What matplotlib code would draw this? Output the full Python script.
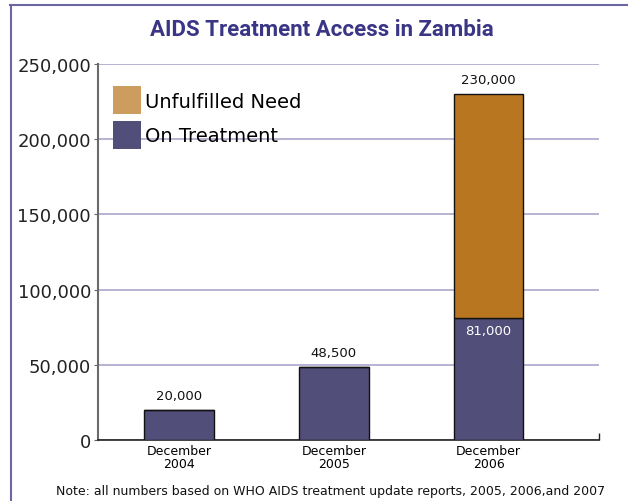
import matplotlib
matplotlib.use('Agg')
import matplotlib.pyplot as plt
from matplotlib.lines import Line2D
from matplotlib.patches import Patch

# Daten
years = ['December\n2004', 'December\n2005', 'December\n2006']
on_treatment = [20000, 48500, 81000]
total_need = [20000, 48500, 230000]
unfulfilled = [t - o for t, o in zip(total_need, on_treatment)]
y_ticks = [0, 50000, 100000, 150000, 200000, 250000]

purple = '#524e7a'
orange = '#b87620'
legend_orange = '#cc9d5f'
grid_color = '#a9a5cc'

plt.rcParams['font.family'] = ['DejaVu Sans']

fig = plt.figure(figsize=(6.28, 5.02), dpi=100)
ax = fig.add_axes([0.156, 0.1215, 0.798, 0.749])

x = list(range(len(years)))
width = 0.45
ax.bar(x, on_treatment, width, color=purple, edgecolor='#111111', linewidth=1, zorder=3)
ax.bar(x, unfulfilled, width, bottom=on_treatment, color=orange,
       edgecolor='#111111', linewidth=1, zorder=3)

# Werte über den Säulen
for i, total in enumerate(total_need):
    ax.annotate(f'{total:,}', (i, total), xytext=(0, 6), textcoords='offset points',
                ha='center', va='bottom', fontsize=9.5, color='#111111')
ax.annotate(f'{on_treatment[2]:,}', (2, on_treatment[2]), xytext=(0, -4),
            textcoords='offset points', ha='center', va='top', fontsize=9.5, color='white',
            zorder=4)

ax.set_xlim(-0.523, 2.714)
ax.set_ylim(0, 250000)
ax.set_yticks(y_ticks)
ax.set_yticklabels([f'{v:,}' for v in y_ticks], fontsize=13, color='#222222')
ax.set_xticks(x)
ax.set_xticklabels(years, fontsize=9, color='#000000', linespacing=0.95)
ax.tick_params(axis='x', length=0, pad=3)
ax.tick_params(axis='y', length=3, color='#666666', pad=2)

# kleiner Strich am rechten Ende der x-Achse
ax.set_xticks([2.714], minor=True)
ax.tick_params(axis='x', which='minor', direction='in', length=5, color='#222222', width=1)

ax.yaxis.grid(True, color=grid_color, linewidth=1.2, zorder=0)
ax.set_axisbelow(True)
for s in ['top', 'right']:
    ax.spines[s].set_visible(False)
ax.spines['left'].set_color('#6a6a6a')
ax.spines['left'].set_linewidth(1.5)
ax.spines['bottom'].set_color('#222222')
ax.spines['bottom'].set_linewidth(1.2)

handles = [Patch(facecolor=legend_orange, label='Unfulfilled Need'),
           Patch(facecolor=purple, label='On Treatment')]
leg = ax.legend(handles=handles, loc='upper left', bbox_to_anchor=(0.03, 0.941),
                frameon=False, fontsize=14, handlelength=1.45, handleheight=1.85,
                handletextpad=0.2, labelspacing=0.35, borderpad=0, borderaxespad=0)
leg.set_zorder(5)

fig.text(0.513, 0.94, 'AIDS Treatment Access in Zambia', ha='center', va='center',
         fontsize=16, fontweight='bold', color='#3a3585', family=['Roboto', 'DejaVu Sans'])
fig.text(0.527, 0.02, 'Note: all numbers based on WHO AIDS treatment update reports, 2005, 2006,and 2007',
         ha='center', va='center', fontsize=9, color='#111111')

# Rahmen oben und links
frame_color = '#6b67a3'
fig.add_artist(Line2D([0.016, 1.0], [0.988, 0.988], color=frame_color, linewidth=1.5))
fig.add_artist(Line2D([0.017, 0.017], [0.0, 0.988], color=frame_color, linewidth=1.5))

fig.savefig('out.png', dpi=100)
